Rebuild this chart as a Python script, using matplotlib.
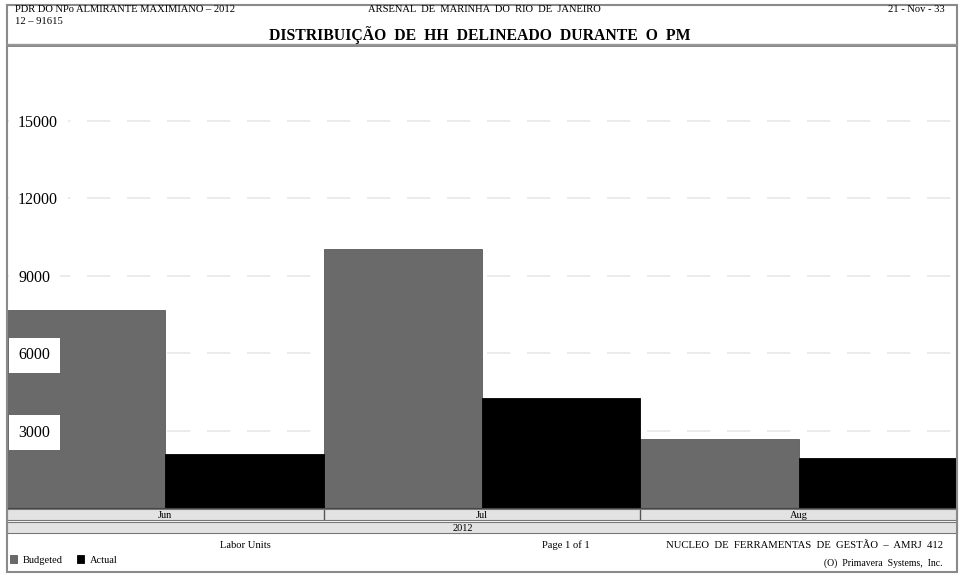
import numpy as np
import matplotlib
matplotlib.use("Agg")
import matplotlib.pyplot as plt
from matplotlib.patches import Rectangle
from matplotlib.lines import Line2D

plt.rcParams['font.family'] = ['Liberation Serif', 'DejaVu Serif']

months = ['Jun', 'Jul', 'Aug']
year = '2012'
budgeted = [7660, 10030, 2660]
actual = [2110, 4250, 1920]
yticks = [3000, 6000, 9000, 12000, 15000]

W, H = 960, 576
fig = plt.figure(figsize=(W / 100, H / 100), dpi=100)


def fx(px):
    return px / W


def fy(py):
    # pixel rows counted from the top
    return 1 - py / H


# main bar area
ax = fig.add_axes([fx(7), fy(508), fx(950), 462 / H])
x = np.arange(len(months))
for v in yticks:
    ax.axhline(v, color='#e8e8e8', linestyle=(0, (14, 10)), linewidth=1.2, zorder=0.5)
b1 = ax.bar(x - 0.25, budgeted, width=0.5, color='#6a6a6a', edgecolor='#5a5a5a',
            linewidth=0.6, label='Budgeted', zorder=2)
b2 = ax.bar(x + 0.25, actual, width=0.5, color='black', edgecolor='black',
            linewidth=0.6, label='Actual', zorder=2)
ax.set_xlim(-0.5, len(months) - 0.5)
ax.set_ylim(0, 17900)
ax.set_xticks([])
ax.set_yticks(yticks)
ax.set_yticklabels([str(v) for v in yticks])
ax.tick_params(axis='y', length=0, pad=-8, labelsize=11.5)
for lbl in ax.get_yticklabels():
    lbl.set_horizontalalignment('left')
    lbl.set_bbox(dict(boxstyle='square,pad=0.6', facecolor='white', edgecolor='none'))
ax.set_axisbelow(False)
for s in ['left', 'right', 'top']:
    ax.spines[s].set_color('#8a8a8a')
    ax.spines[s].set_linewidth(1.4)
ax.spines['bottom'].set_color('#444444')

# month band
axm = fig.add_axes([fx(7), fy(520), fx(950), 11 / H], facecolor='#e3e3e3')
axm.set_xlim(ax.get_xlim())
axm.set_ylim(0, 1)
axm.set_xticks([])
axm.set_yticks([])
for i, m in enumerate(months):
    axm.text(i, 0.45, m, ha='center', va='center', fontsize=7.5)
for xv in x[:-1] + 0.5:
    axm.axvline(xv, color='#555555', lw=1)
for s in axm.spines.values():
    s.set_color('#777777')
    s.set_linewidth(0.8)

# year band
axy = fig.add_axes([fx(7), fy(533), fx(950), 11 / H], facecolor='#e3e3e3')
axy.set_xlim(ax.get_xlim())
axy.set_ylim(0, 1)
axy.set_xticks([])
axy.set_yticks([])
axy.text(0.48, 0.45, year, ha='center', va='center', fontsize=7.5, transform=axy.transAxes)
for s in axy.spines.values():
    s.set_color('#777777')
    s.set_linewidth(0.8)

# page frame
fig.patches.append(Rectangle((fx(7), fy(572)), fx(950), (572 - 5) / H, transform=fig.transFigure,
                             fill=False, edgecolor='#8a8a8a', linewidth=1.5))
fig.lines.append(Line2D([fx(7), fx(957)], [fy(44), fy(44)], transform=fig.transFigure,
                        color='#9a9a9a', linewidth=1))

# header
fig.text(fx(15), fy(10), 'PDR DO NPo ALMIRANTE MAXIMIANO – 2012', fontsize=7.6, va='center')
fig.text(fx(15), fy(21), '12 – 91615', fontsize=7.6, va='center')
fig.text(fx(484), fy(10), 'ARSENAL  DE  MARINHA  DO  RIO  DE  JANEIRO', fontsize=7.6,
         ha='center', va='center')
fig.text(fx(945), fy(10), '21 - Nov - 33', fontsize=7.6, ha='right', va='center')
fig.text(fx(480), fy(35), 'DISTRIBUIÇÃO  DE  HH  DELINEADO  DURANTE  O  PM', fontsize=11.3,
         fontweight='bold', ha='center', va='center')

# footer
fig.text(fx(245), fy(545), 'Labor Units', fontsize=7.6, ha='center', va='center')
fig.text(fx(566), fy(545), 'Page 1 of 1', fontsize=7.6, ha='center', va='center')
fig.text(fx(943), fy(545), 'NUCLEO  DE  FERRAMENTAS  DE  GESTÃO  –  AMRJ  412', fontsize=7.7,
         ha='right', va='center')
fig.text(fx(943), fy(563), '(O)  Primavera  Systems,  Inc.', fontsize=7, ha='right', va='center')

fig.legend(handles=[b1, b2], loc='center left', bbox_to_anchor=(fx(10), fy(560)), ncol=2,
           frameon=False, fontsize=7.5, handlelength=0.7, handleheight=0.7, handletextpad=0.5,
           columnspacing=1.4, borderaxespad=0, borderpad=0)

fig.savefig('out.png', dpi=100)
